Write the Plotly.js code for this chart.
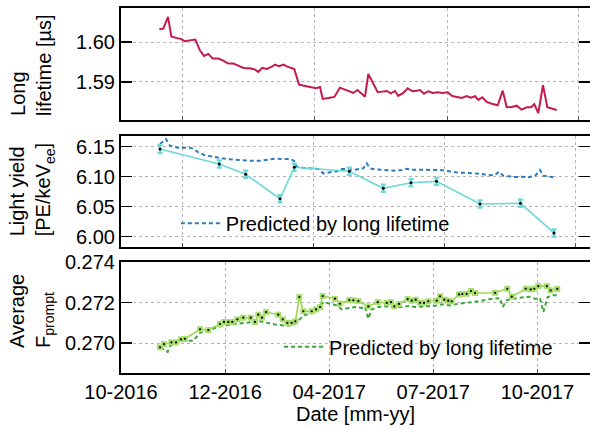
<!DOCTYPE html>
<html>
<head>
<meta charset="utf-8">
<script src="https://cdn.plot.ly/plotly-3.0.1.min.js"></script>
<style>html,body{margin:0;padding:0;background:#fff;}#chart{width:590px;height:428px;}</style>
</head>
<body>
<div id="chart"></div>
<script>
// x values: days since the left edge of the time axis
const lifetimeDay = [33.5,37.0,41.1,44.0,48.1,52.2,55.7,60.3,65.0,69.1,72.6,76.3,80.2,85.1,89.4,93.8,98.2,102.5,106.9,112.8,117.2,120.0,123.5,127.4,130.9,134.6,138.1,141.9,145.4,151.5,155.6,160.9,166.7,170.5,174.0,176.3,181.2,186.5,191.4,197.3,203.1,206.7,210.4,213.3,216.2,220.6,224.4,228.4,232.3,236.0,239.5,242.4,246.8,250.6,254.7,258.5,261.4,264.9,268.6,272.5,276.9,280.9,285.6,289.6,293.5,297.8,302.2,305.7,309.5,312.4,315.8,319.7,324.1,329.3,333.7,337.2,341.5,345.9,350.3,354.7,358.4,361.3,364.8,368.9,372.7,376.5,380.9];
const lifetimeUs = [1.60327,1.60343,1.60637,1.60141,1.60108,1.60083,1.60025,1.6005,1.60065,1.59788,1.59655,1.59705,1.59587,1.59587,1.59537,1.59461,1.59461,1.59411,1.59353,1.59345,1.5931,1.59252,1.59353,1.59327,1.5937,1.59436,1.59395,1.59436,1.59385,1.59327,1.58932,1.58899,1.58874,1.58841,1.58874,1.58572,1.58597,1.58622,1.58856,1.58798,1.58723,1.58798,1.58698,1.5863,1.59201,1.5895,1.58741,1.58756,1.58773,1.58715,1.58773,1.58647,1.58723,1.58841,1.58766,1.58781,1.58798,1.58705,1.58766,1.58723,1.58741,1.58723,1.58741,1.58647,1.58622,1.58597,1.58647,1.58605,1.5864,1.58547,1.58614,1.58496,1.58453,1.58413,1.58781,1.58363,1.5837,1.58403,1.58302,1.58363,1.58363,1.58438,1.58219,1.58917,1.58363,1.58327,1.58295];

const lyDay = [34.1,85.9,109.0,139.0,151.5,199.6,229.3,253.5,275.8,313.8,349.2,378.5];
const lyVal = [6.1462,6.1212,6.104,6.0633,6.1157,6.109,6.0807,6.09,6.0923,6.0545,6.0557,6.0062];
const lyErr = [0.007,0.006,0.006,0.006,0.006,0.006,0.006,0.006,0.006,0.006,0.006,0.006];

const lyPredDay = [34.1,39.3,42.8,47.2,53.1,58.8,63.2,67.6,73.4,79.3,86.5,95.3,104.0,112.8,121.5,127.4,134.6,141.9,147.7,151.2,153.6,159.4,166.7,172.5,176.9,182.7,188.6,192.9,197.3,203.1,209.0,211.8,214.8,217.7,222.0,227.9,233.7,239.5,245.4,249.8,254.1,259.9,265.8,273.0,278.9,283.2,289.1,294.9,300.7,306.6,313.8,321.1,327.0,330.4,334.2,338.6,344.4,350.3,356.1,361.9,366.3,369.2,373.6,377.9];
const lyPredVal = [6.1545,6.1628,6.1517,6.149,6.1478,6.149,6.1467,6.1407,6.1357,6.1333,6.1312,6.129,6.1278,6.1267,6.1267,6.1283,6.13,6.1295,6.1295,6.1267,6.1167,6.115,6.114,6.1128,6.1056,6.1078,6.109,6.1128,6.1128,6.1112,6.1128,6.114,6.1223,6.114,6.1123,6.1117,6.1112,6.11,6.1112,6.1133,6.1117,6.1117,6.1112,6.1112,6.1112,6.11,6.1078,6.1067,6.1067,6.1056,6.105,6.1023,6.1033,6.1083,6.1017,6.1007,6.0995,6.1,6.099,6.1012,6.1112,6.1017,6.1,6.099];

const fpDay = [34.1,37.6,44.0,48.1,52.5,55.9,69.1,76.3,86.5,90.0,93.8,97.3,101.7,106.9,113.4,117.1,120.0,123.3,126.8,137.5,141.4,145.4,149.2,152.4,155.9,159.4,166.7,170.5,174.0,176.3,187.1,191.4,199.6,203.1,207.5,216.2,224.4,232.3,236.0,238.9,243.0,250.6,254.1,257.6,261.4,264.9,268.6,276.0,278.9,282.6,286.1,289.1,295.5,298.4,302.2,306.0,309.5,327.0,337.7,341.6,353.8,358.2,361.3,364.8,372.2,375.6,381.4];
const fpVal = [0.26980,0.26996,0.27004,0.27004,0.27019,0.27022,0.27069,0.27065,0.27095,0.27105,0.27105,0.27105,0.27118,0.27126,0.27126,0.27105,0.27141,0.27126,0.27154,0.27141,0.27118,0.27101,0.27101,0.27108,0.27228,0.27158,0.27158,0.27167,0.27179,0.27233,0.27220,0.27195,0.27213,0.27212,0.27208,0.27182,0.27203,0.27199,0.27203,0.27182,0.27194,0.27218,0.27210,0.27215,0.27200,0.27199,0.27207,0.27210,0.27232,0.27215,0.27210,0.27207,0.27241,0.27243,0.27244,0.27258,0.27248,0.27249,0.27269,0.27230,0.27269,0.27266,0.27269,0.27282,0.27282,0.27261,0.27268];

const fpPredDay = [34.1,37.6,40.8,43.4,48.7,54.5,63.2,69.1,76.3,83.7,90.9,98.2,106.9,115.7,117.1,121.5,127.4,134.6,141.9,147.7,153.6,159.4,165.2,171.1,176.9,182.7,188.6,192.9,200.2,204.6,210.4,213.3,216.2,219.2,224.9,232.3,239.5,246.8,251.2,257.0,265.8,274.5,280.4,287.6,294.9,303.6,312.4,321.1,327.0,331.3,333.7,337.2,343.0,350.3,356.1,361.9,366.3,369.2,373.0,377.9,381.4];
const fpPredVal = [0.26976,0.2697,0.26957,0.2699,0.27006,0.27012,0.27012,0.27052,0.27062,0.27079,0.27088,0.27095,0.271,0.27105,0.27096,0.27108,0.27101,0.27093,0.27088,0.27088,0.271,0.27138,0.27146,0.27154,0.27203,0.27195,0.27187,0.27167,0.27175,0.27179,0.27174,0.27182,0.27121,0.27167,0.27179,0.27182,0.27179,0.27179,0.27184,0.27179,0.27182,0.27185,0.27192,0.27187,0.27195,0.272,0.27207,0.27217,0.2722,0.27223,0.27179,0.27212,0.2722,0.27227,0.2723,0.2722,0.27223,0.27154,0.27228,0.27237,0.27237];

const dateTickDays = [0,91,182,273,364];
const dateTickText = ['10-2016','12-2016','04-2017','07-2017','10-2017'];
const topGridDays = [54,169,285,400];
const midGridDays = [54,168,283,397];
const ltTicks = [1.59,1.60];
const lyTicks = [6.00,6.05,6.10,6.15];
const fpTicks = [0.270,0.272,0.274];
const legendLabel = 'Predicted by long lifetime';

const FONT = 'Liberation Sans, Arial, Helvetica, sans-serif';

const traces = [
  {x: lifetimeDay, y: lifetimeUs, xaxis:'x', yaxis:'y', mode:'lines',
   line:{color:'#c41a4e', width:2}, showlegend:false},
  {x: lyPredDay, y: lyPredVal, xaxis:'x2', yaxis:'y2', mode:'lines', name: legendLabel,
   line:{color:'#2b7bbd', width:2, dash:'4px,3px'}, legend:'legend'},
  {x: lyDay, y: lyVal, xaxis:'x2', yaxis:'y2', mode:'lines+markers', showlegend:false,
   line:{color:'#6bd9d9', width:1.6},
   marker:{color:'#000', size:3},
   error_y:{type:'data', array: lyErr, visible:true, color:'#6bd9d9', thickness:2.2, width:2.5}},
  {x: fpPredDay, y: fpPredVal, xaxis:'x3', yaxis:'y3', mode:'lines', name: legendLabel,
   line:{color:'#3aa53a', width:2, dash:'4px,3px'}, legend:'legend2'},
  {x: fpDay, y: fpVal, xaxis:'x3', yaxis:'y3', mode:'lines+markers', showlegend:false,
   line:{color:'#9ad650', width:1.6},
   marker:{color:'#a8de6c', size:6, symbol:'square'}},
  {x: fpDay, y: fpVal, xaxis:'x3', yaxis:'y3', mode:'markers', showlegend:false,
   marker:{color:'#000', size:2.2}}
];

function xax(tv, labels, anchor){
  const a = {range:[0,410], anchor:anchor, tickmode:'array', tickvals:tv,
    showgrid:true, gridcolor:'#b4b4b4', griddash:'dot', gridwidth:1,
    showline:true, linecolor:'#000', linewidth:2, mirror:true,
    ticks:'inside', ticklen:4, tickcolor:'#555', zeroline:false,
    tickfont:{family:FONT, size:20, color:'#000'}};
  if (labels) { a.ticktext = labels; a.showticklabels = true; }
  else { a.showticklabels = false; }
  return a;
}
function yax(range, tv, fmt, domain, anchor){
  return {range:range, domain:domain, anchor:anchor, tickmode:'array', tickvals:tv,
    tickformat:fmt, showgrid:true, gridcolor:'#b4b4b4', griddash:'dot', gridwidth:1,
    showline:true, linecolor:'#000', linewidth:2, mirror:'ticks',
    ticks:'inside', ticklen:11, tickwidth:1.5, tickcolor:'#000', zeroline:false,
    tickfont:{family:FONT, size:20, color:'#000'}};
}

const layout = {
  width:590, height:428,
  margin:{l:121, r:0, t:8, b:55},
  paper_bgcolor:'#fff', plot_bgcolor:'#fff',
  font:{family:FONT, size:20, color:'#000'},
  xaxis: xax(topGridDays, null, 'y'),
  xaxis2: xax(midGridDays, null, 'y2'),
  xaxis3: Object.assign(xax(dateTickDays, dateTickText, 'y3'),
    {title:{text:'Date [mm-yy]', font:{family:FONT, size:20, color:'#000'}, standoff:4}}),
  yaxis: yax([1.5803,1.6086], ltTicks, '.2f', [0.6918,1], 'x'),
  yaxis2: yax([5.9833,6.1683], lyTicks, '.2f', [0.346,0.650], 'x2'),
  yaxis3: yax([0.26853,0.27401], fpTicks, '.3f', [0,0.304], 'x3'),
  legend:{x:0.117, y:0.41, xanchor:'left', yanchor:'middle', bgcolor:'rgba(0,0,0,0)',
    font:{family:FONT, size:20, color:'#000'}, itemwidth:40},
  legend2:{x:0.337, y:0.072, xanchor:'left', yanchor:'middle', bgcolor:'rgba(0,0,0,0)',
    font:{family:FONT, size:20, color:'#000'}, itemwidth:40},
  annotations:[
    {text:'Long<br>lifetime [µs]', xref:'paper', yref:'paper', x:-0.192, y:0.6986,
     xanchor:'center', yanchor:'bottom', textangle:-90, align:'left', showarrow:false,
     font:{family:FONT, size:20, color:'#000'}},
    {text:'Light yield<br>[PE/keV<sub>ee</sub>]', xref:'paper', yref:'paper', x:-0.19, y:0.370,
     xanchor:'center', yanchor:'bottom', textangle:-90, align:'left', showarrow:false,
     font:{family:FONT, size:20, color:'#000'}},
    {text:'Average<br>F<sub>prompt</sub>', xref:'paper', yref:'paper', x:-0.192, y:0.063,
     xanchor:'center', yanchor:'bottom', textangle:-90, align:'left', showarrow:false,
     font:{family:FONT, size:20, color:'#000'}}
  ]
};

Plotly.newPlot('chart', traces, layout, {displayModeBar:false, staticPlot:true});
</script>
</body>
</html>
